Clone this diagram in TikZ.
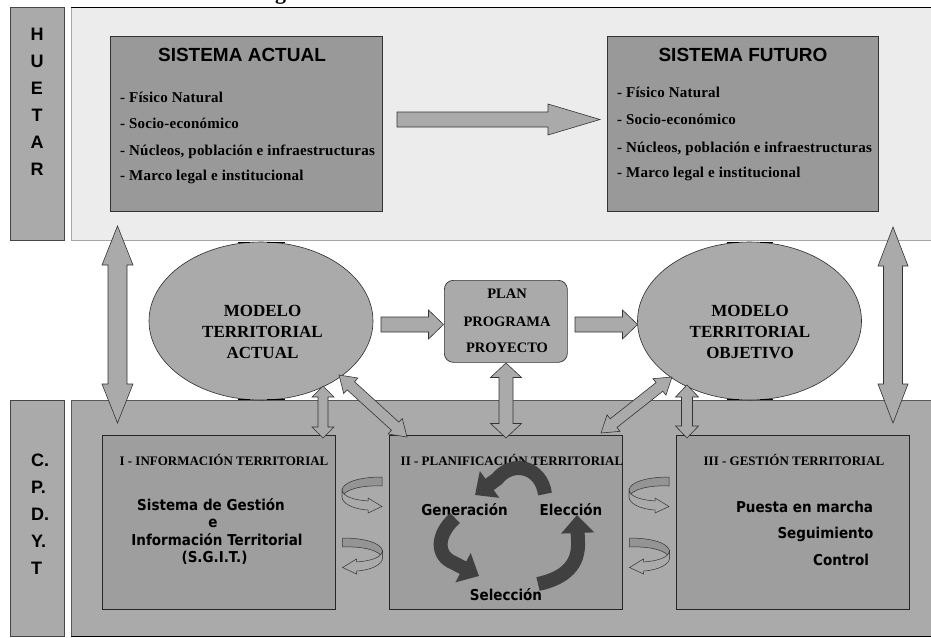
\documentclass[tikz,border=0pt]{standalone}
\usepackage{fontspec}
\setmainfont{Liberation Serif}
\newfontfamily\itemfont{Liberation Serif}[LetterSpace=1.5]
\newfontfamily\headfont{Liberation Sans}
\newfontfamily\plainsans[FakeStretch=0.9]{DejaVu Sans}
\usetikzlibrary{calc,shapes.geometric,arrows.meta}

\definecolor{panelL}{gray}{0.925}
\definecolor{midg}{gray}{0.667}
\definecolor{sysg}{gray}{0.6}
\definecolor{unitg}{gray}{0.62}
\definecolor{backg}{gray}{0.58}
\definecolor{cycg}{gray}{0.25}
\definecolor{edge}{gray}{0.2}

% block arrow with one head: [opts]{from}{to}{shaft half width}{head half width}{head length}
\newcommand\onearrow[6][]{%
  \coordinate (oa) at ($(#3)!#6!(#2)$);
  \draw[blockarrow,#1] ($(#2)!#4!90:(#3)$) -- ($(oa)!#4!90:(#3)$) -- ($(oa)!#5!90:(#3)$)
    -- (#3) -- ($(oa)!#5!-90:(#3)$) -- ($(oa)!#4!-90:(#3)$) -- ($(#2)!#4!-90:(#3)$) -- cycle;}
% block arrow with two heads
\newcommand\twoarrow[6][]{%
  \coordinate (da) at ($(#2)!#6!(#3)$);
  \coordinate (db) at ($(#3)!#6!(#2)$);
  \draw[blockarrow,#1] (#2) -- ($(da)!#5!90:(#3)$) -- ($(da)!#4!90:(#3)$) -- ($(db)!#4!90:(#3)$)
    -- ($(db)!#5!90:(#3)$) -- (#3) -- ($(db)!#5!-90:(#3)$) -- ($(db)!#4!-90:(#3)$)
    -- ($(da)!#4!-90:(#3)$) -- ($(da)!#5!-90:(#3)$) -- cycle;}

\tikzset{
  blockarrow/.style={fill=midg, draw=edge, line width=0.6pt, line join=miter},
  sideband/.style={fill=midg, draw=gray!55!black, line width=0.7pt, anchor=north west, inner sep=0pt},
  sysbox/.style={fill=sysg, draw=edge, line width=0.8pt, anchor=north west, inner sep=0pt},
  unitbox/.style={fill=unitg, draw=black!85, line width=0.8pt, anchor=north west, inner sep=0pt},
  model/.style={ellipse, fill=midg, draw=gray!35!black, line width=0.6pt,
    minimum width=224pt, minimum height=158pt, inner sep=0pt},
  bandletters/.style={font=\headfont\bfseries\fontsize{18}{27}\selectfont, inner sep=0pt},
  systitle/.style={font=\headfont\bfseries\fontsize{19}{19}\selectfont, anchor=base, inner sep=0pt},
  item/.style={font=\itemfont\bfseries\fontsize{15}{15}\selectfont, anchor=base west, inner sep=0pt},
  modeltext/.style={font=\bfseries\fontsize{17}{21}\selectfont, anchor=base, inner sep=0pt},
  plantext/.style={font=\bfseries\fontsize{14.5}{14.5}\selectfont, anchor=base, inner sep=0pt},
  unittitle/.style={font=\bfseries\fontsize{13}{13}\selectfont, anchor=base, inner sep=0pt},
  unittext/.style={font=\plainsans\bfseries\fontsize{15}{15}\selectfont, anchor=base, inner sep=0pt},
  cycarrow/.style={draw=cycg, line width=14pt, -{Triangle[width=32pt,length=18pt]}},
  twistback/.style={fill=backg, draw=edge, line width=0.5pt},
  twistfront/.style={fill=midg, draw=edge, line width=0.5pt},
  pics/twist/.style={code={
    \draw[twistback] (20,0) .. controls (-2,0) and (-19,5) .. (-20,13) -- (-20,20)
      .. controls (-18,13) and (-2,8) .. (20,9) -- cycle;
    \draw[twistfront] (-20,13) .. controls (-19,20) and (-7,23) .. (6,24) -- (6,21)
      -- (20,29.5) -- (6,36) -- (6,33) .. controls (-10,32) and (-20,26) .. (-20,20) -- cycle;
  }},
}

\begin{document}
\begin{tikzpicture}[x=1pt,y=-1pt]
\useasboundingbox[fill=white] (0,0) rectangle (931,637);

% descender of the heading line above
\node[font=\bfseries\fontsize{22}{22}\selectfont, anchor=base, inner sep=0pt] (headg) at (280.5,-1) {g};

% ---- upper level: HUETAR ----
\node[sideband, minimum width=54pt, minimum height=233pt] (huetar) at (10,7) {};
\node[bandletters, align=center] (huetarlbl) at (37,102) {H\\U\\E\\T\\A\\R};
\node[fill=panelL, draw=gray!70, line width=0.7pt, anchor=north west, inner sep=0pt,
      minimum width=862pt, minimum height=233pt] (toppanel) at (71,7) {};
\draw[black, line width=0.9pt] (toppanel.north west) -- (toppanel.north east);

\node[sysbox, minimum width=272pt, minimum height=175pt] (sa) at (110,36) {};
\node[systitle] (satitle) at (242,61) {SISTEMA ACTUAL};
\node[item] (sa1) at (120,102) {- Físico Natural};
\node[item] (sa2) at (120,128) {- Socio-económico};
\node[item] (sa3) at (120,155) {- Núcleos, población e infraestructuras};
\node[item] (sa4) at (120,180) {- Marco legal e institucional};

\node[sysbox, minimum width=271pt, minimum height=175pt] (sf) at (607,36) {};
\node[systitle] (sftitle) at (743,61) {SISTEMA FUTURO};
\node[item] (sf1) at (617,97) {- Físico Natural};
\node[item] (sf2) at (617,124) {- Socio-económico};
\node[item] (sf3) at (617,152) {- Núcleos, población e infraestructuras};
\node[item] (sf4) at (617,177) {- Marco legal e institucional};

% ---- lower level: C.P.D.Y.T ----
\node[sideband, minimum width=54pt, minimum height=236pt] (cpdyt) at (10,400) {};
\node[bandletters, align=left, anchor=west] (cpdytlbl) at (31,514) {C.\\P.\\D.\\Y.\\T};
\node[fill=midg, draw=gray!70!black, line width=0.7pt, anchor=north west, inner sep=0pt,
      minimum width=862pt, minimum height=236pt] (botpanel) at (71,400) {};
\draw[black, line width=0.9pt] (botpanel.south west) -- (botpanel.south east);

\node[unitbox, minimum width=233pt, minimum height=174pt] (b1) at (102,435) {};
\node[unitbox, minimum width=233pt, minimum height=174pt] (b2) at (389,435) {};
\node[unitbox, minimum width=233pt, minimum height=174pt] (b3) at (676,435) {};

\node[unittitle] (b1t) at (224,465) {I - INFORMACIÓN TERRITORIAL};
\node[unittitle] (b2t) at (512,465) {II - PLANIFICACIÓN TERRITORIAL};
\node[unittitle] (b3t) at (794,465) {III - GESTIÓN TERRITORIAL};

\node[unittext] (sg1) at (211,510) {Sistema de Gestión};
\node[unittext] (sg2) at (213,527.5) {e};
\node[unittext] (sg3) at (217,545) {Información Territorial};
\node[unittext] (sg4) at (214.5,562.5) {(S.G.I.T.)};

\node[unittext] (gen) at (464.5,515) {Generación};
\node[unittext] (ele) at (571,515) {Elección};
\node[unittext] (sel) at (506,600) {Selección};

\node[unittext] (pm) at (804.5,512) {Puesta en marcha};
\node[unittext] (seg) at (825.5,538) {Seguimiento};
\node[unittext] (ctl) at (841,565) {Control};

% planning cycle
\draw[cycarrow] (545,494) .. controls (541,466) and (512,460) .. (497,479) -- (475,495);
\draw[cycarrow] (455,518) .. controls (436,535) and (436,556) .. (454,563) -- (479,576);
\draw[cycarrow] (538,584) .. controls (566,578) and (579,564) .. (578,542) -- (577,515);

% twisted exchange arrows between the units
\pic at (362,477) {twist};
\pic[xscale=-1] at (362.5,538) {twist};
\pic at (649,477) {twist};
\pic[xscale=-1] at (649.5,538) {twist};

% ---- middle: models and plan ----
\node[model] (ma) at (261,321) {};
\node[modeltext, align=center] (matxt) at (262.5,358) {MODELO\\TERRITORIAL\\ACTUAL};
\node[model] (mo) at (749.5,321) {};
\node[modeltext, align=center] (motxt) at (750,358) {MODELO\\TERRITORIAL\\OBJETIVO};
\foreach \xa/\xb in {238/250,267/285} {
  \draw[black, line width=1.6pt] (\xa,242.5) -- (\xb,242.5) (\xa,399.5) -- (\xb,399.5);}
\foreach \xa/\xb in {727/739,760/773} {
  \draw[black, line width=1.6pt] (\xa,242.5) -- (\xb,242.5) (\xa,399.5) -- (\xb,399.5);}

\node[fill=midg, draw=edge, line width=0.7pt, rounded corners=9pt, anchor=north west,
      inner sep=0pt, minimum width=123pt, minimum height=82pt] (plan) at (444,280) {};
\node[plantext] (plan1) at (507,298) {PLAN};
\node[plantext] (plan2) at (507,326) {PROGRAMA};
\node[plantext] (plan3) at (507,352) {PROYECTO};

% ---- connectors ----
\coordinate (saout) at (397,119.5);
\coordinate (sfin) at (600,119.5);
\onearrow{saout}{sfin}{7.5pt}{15.5pt}{52pt}

\coordinate (maout) at (381,324.5);
\coordinate (planin) at (443.5,324.5);
\onearrow{maout}{planin}{7.5pt}{14.5pt}{15pt}
\coordinate (planout) at (575,324.5);
\coordinate (moin) at (637.5,324.5);
\onearrow{planout}{moin}{7.5pt}{14.5pt}{15pt}

\coordinate (hl1) at (117.5,226);
\coordinate (hl2) at (117.5,423);
\twoarrow{hl1}{hl2}{9.5pt}{15.5pt}{39pt}
\coordinate (hr1) at (893,227);
\coordinate (hr2) at (893,423);
\twoarrow{hr1}{hr2}{9.5pt}{15pt}{39pt}

\coordinate (ma1) at (323,386);
\coordinate (b1in) at (323,438);
\twoarrow{ma1}{b1in}{5pt}{11pt}{11pt}
\coordinate (ma2) at (339,375);
\coordinate (b2inl) at (407,437);
\twoarrow{ma2}{b2inl}{5.5pt}{10.5pt}{16pt}
\coordinate (planbot) at (506,363);
\coordinate (b2inm) at (506,438);
\twoarrow{planbot}{b2inm}{7pt}{15.5pt}{14.5pt}
\coordinate (mo2) at (672,377);
\coordinate (b2inr) at (601,433);
\twoarrow{mo2}{b2inr}{5.5pt}{10.5pt}{16pt}
\coordinate (mo1) at (687,385);
\coordinate (b3in) at (687,438);
\twoarrow{mo1}{b3in}{5.5pt}{11.5pt}{12pt}
\end{tikzpicture}
\end{document}
